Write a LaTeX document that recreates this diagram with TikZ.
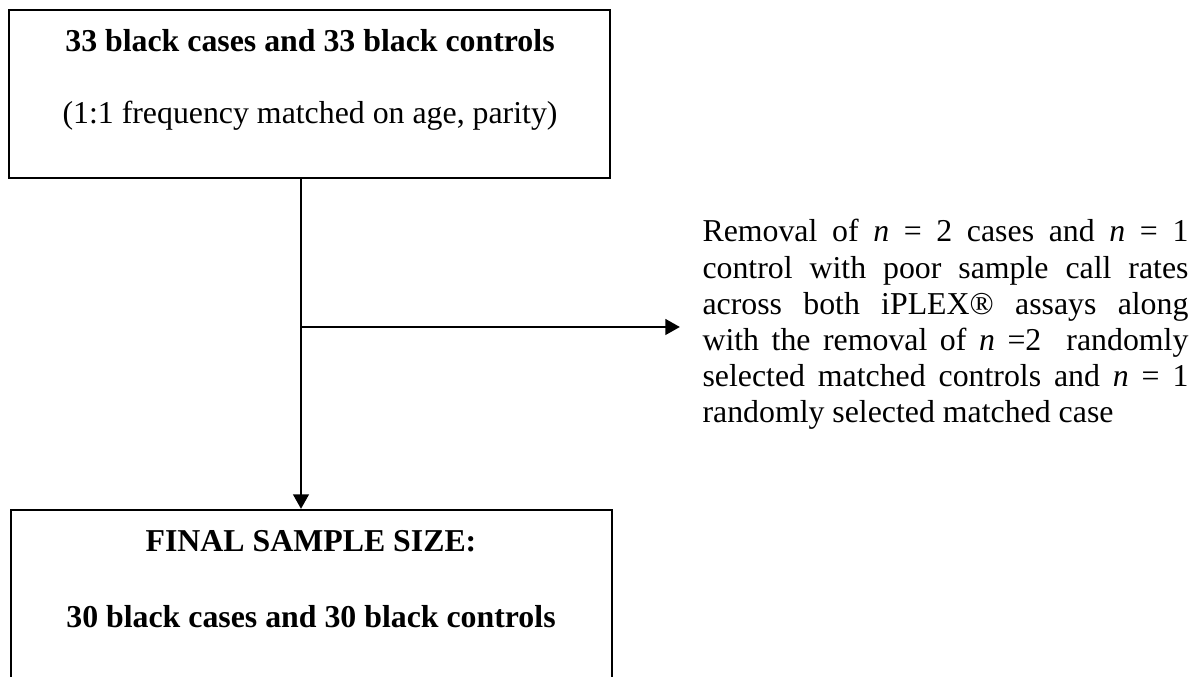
\documentclass[tikz,border=0pt]{standalone}
\usepackage{fontspec}
\setmainfont{Liberation Serif}
\usetikzlibrary{arrows.meta,calc}
\begin{document}
\begin{tikzpicture}[x=0.377pt,y=-0.377pt,
  box/.style={draw,line width=0.75pt,inner sep=0pt},
  arr/.style={line width=1.1pt,-{Triangle[length=5.5pt,width=5.8pt]}},
  lbl/.style={font=\fontsize{12}{13.6}\selectfont,inner sep=0pt,anchor=base},
  blbl/.style={lbl,font=\fontsize{12}{13.6}\selectfont\bfseries},
]
\useasboundingbox (0,0) rectangle (1196,677);
\clip (0,0) rectangle (1196,677);

% boxes
\node[box,minimum width=226.6pt,minimum height=63.3pt] (top) at (309.5,94) {};
\node[box,minimum width=226.6pt,minimum height=79.2pt] (bottom) at (311.5,615) {};

% box texts
\node[blbl] (t1) at (310,52) {33 black cases and 33 black controls};
\node[lbl]  (t2) at (310,124) {(1:1 frequency matched on age, parity)};
\node[blbl] (b1) at (311,552) {FINAL SAMPLE SIZE:};
\node[blbl] (b2) at (311,628) {30 black cases and 30 black controls};

% exclusion note
\node[lbl,anchor=base west,text width=183.2pt,align=justify] (note) at (702,242)
  {Removal of \textit{n} = 2 cases and \textit{n} = 1\linebreak
   control with poor sample call rates\linebreak
   across both iPLEX® assays along\linebreak
   with the removal of \textit{n} =2~ randomly\linebreak
   selected matched controls and \textit{n} = 1\linebreak
   randomly selected matched case};

% connectors
\coordinate (split) at (301,327);
\draw[arr] (split |- top.south) -- (split |- bottom.north);
\draw[arr,shorten >=8.3pt] (split) -- (split -| note.west);
\end{tikzpicture}
\end{document}
